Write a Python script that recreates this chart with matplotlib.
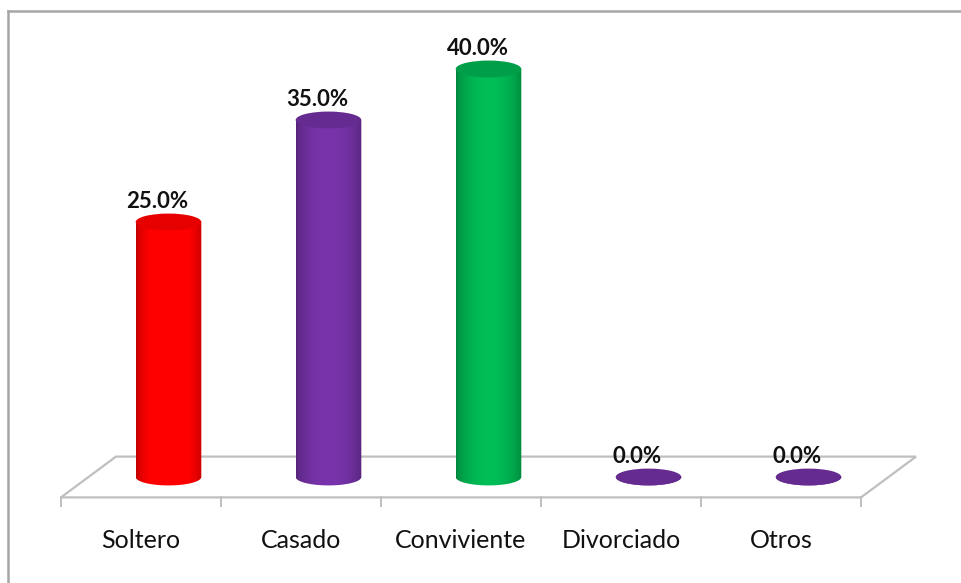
import matplotlib.pyplot as plt
from matplotlib.patches import Ellipse, PathPatch, Polygon
from matplotlib.path import Path
from matplotlib.lines import Line2D
import numpy as np

# Estado civil (porcentaje)
categories = ["Soltero", "Casado", "Conviviente", "Divorciado", "Otros"]
values = [25.0, 35.0, 40.0, 0.0, 0.0]
colors = ["#ff0000", "#7030a0", "#00b050", "#7030a0", "#7030a0"]
labels = ["%.1f%%" % v for v in values]

# pseudo-3D floor geometry, in data units
depth_dx = 0.344   # horizontal shift from front to back edge
depth_dy = 4.0     # vertical shift from front to back edge
bar_w = 0.41
ell_h = 1.65

fig = plt.figure(figsize=(9.61, 5.83), dpi=100)
ax = fig.add_axes([0, 0, 1, 1])
n = len(categories)

# floor parallelogram
x_lo, x_hi = -0.5, n - 0.5
front = -depth_dy / 2
back = depth_dy / 2
floor = Polygon([(x_lo - depth_dx / 2, front), (x_hi - depth_dx / 2, front),
                 (x_hi + depth_dx / 2, back), (x_lo + depth_dx / 2, back)],
                closed=True, facecolor="white", edgecolor="#bfbfbf", lw=1.6, zorder=1)
ax.add_patch(floor)
for k in range(n + 1):
    xt = k - 0.5 - depth_dx / 2
    ax.plot([xt, xt], [front, front - 0.8], color="#bfbfbf", lw=1.4, zorder=1)


def shade(base, m=64):
    t = np.linspace(0, 1, m)
    f = 0.76 + 0.32 * np.sin(np.pi * t) ** 0.6
    rgb = np.array(plt.matplotlib.colors.to_rgb(base))
    return np.clip(f[:, None] * rgb[None, :], 0, 1)[None, :, :]


for i, (v, c, lab) in enumerate(zip(values, colors, labels)):
    xl, xr = i - bar_w / 2, i + bar_w / 2
    th = np.linspace(np.pi, 2 * np.pi, 60)
    arc = np.column_stack([i + bar_w / 2 * np.cos(th), ell_h / 2 * np.sin(th)])
    verts = np.vstack([[xl, v], arc, [xr, v], [xl, v]])
    codes = [Path.MOVETO] + [Path.LINETO] * (len(verts) - 2) + [Path.CLOSEPOLY]
    body = PathPatch(Path(verts, codes), facecolor="none", edgecolor="none")
    ax.add_patch(body)
    img = ax.imshow(shade(c), extent=[xl, xr, -ell_h, v + ell_h], aspect="auto",
                    interpolation="bilinear", zorder=3)
    img.set_clip_path(body)
    top_rgb = np.array(plt.matplotlib.colors.to_rgb(c)) * 0.9
    ax.add_patch(Ellipse((i, v), bar_w, ell_h, facecolor=top_rgb, edgecolor="none", zorder=4))
    ax.annotate(lab, (i, v), xytext=(-11, 14), textcoords="offset pixels",
                ha="center", va="baseline", fontsize=16, fontweight="bold",
                family="Lato", color="#111111", zorder=5)

for i, cat in enumerate(categories):
    ax.text(i - depth_dx / 2, -6.2, cat, ha="center", va="center",
            fontsize=18, family="Lato", color="#111111")

ax.set_xlim(-1.053, 4.953)
ax.set_ylim(-10.39, 46.76)
ax.axis("off")

# chart area border
fig.add_artist(Line2D([8 / 961, 8 / 961], [0, 1 - 11 / 583], color="#a6a6a6", lw=1.8))
fig.add_artist(Line2D([8 / 961, 1], [1 - 11 / 583, 1 - 11 / 583], color="#a6a6a6", lw=1.8))

fig.savefig("out.png", dpi=100)
